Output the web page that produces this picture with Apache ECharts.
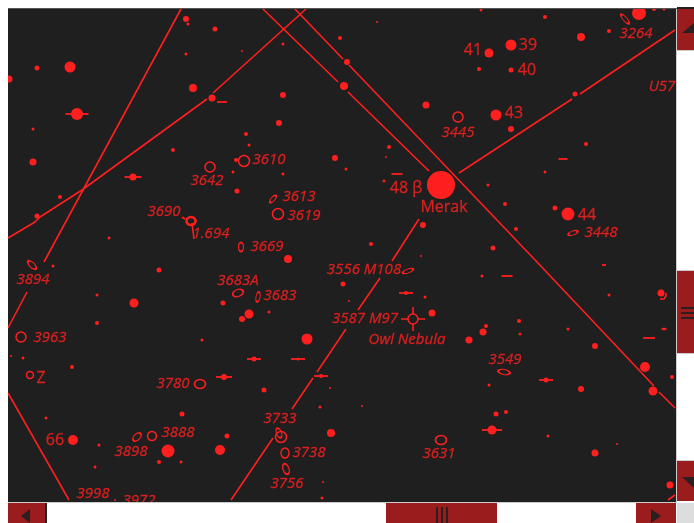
<!DOCTYPE html>
<html><head><meta charset="utf-8">
<style>html,body{margin:0;padding:0;background:#fff}#c{width:694px;height:523px}</style>
<script src="https://cdn.jsdelivr.net/npm/echarts@6/dist/echarts.min.js"></script>
</head><body><div id="c"></div>
<script>
// sky-map position in chart units, x, y, diameter
const stars=[[186,19,6],[188,24,3],[215,29,5],[340,38,4],[283,44,3],[242,51,2],[186,54,3],[347,62,6],[37,68,5],[70,67,11],[9,79,7],[344,86,8],[193,88,8],[212,98,7],[283,95,6],[279,123,6],[246,134,4],[249,145,3],[33,129,3],[77,114,12],[173,150,4],[33,162,7],[236,160,4],[335,158,6],[346,169,3],[283,174,3],[233,172,3],[133,177,7],[237,191,5],[60,197,4],[37,216,5],[109,238,3],[288,259,8],
[481,10,3],[377,22,2],[545,17,4],[639,13,14],[654,9,4],[664,9,3],[609,31,4],[581,37,8],[511,45,11],[489,53,9],[479,69,4],[511,70,5],[575,94,5],[426,105,7],[496,115,11],[511,129,6],[586,144,4],[389,147,4],[386,157,2],[384,181,3],[441,185,28],[545,172,3],[488,185,3],[505,204,4],[555,208,5],[568,214,13],[516,229,4],[423,225,6],[371,244,4],[421,256,2],[493,248,5],
[53,266,3],[159,270,5],[97,295,3],[134,303,9],[343,284,5],[223,303,5],[249,314,9],[242,319,6],[269,312,3],[349,301,2],[97,323,4],[307,339,11],[202,340,3],[11,356,2],[23,358,3],[72,367,4],[254,359,5],[298,359,3],[224,377,6],[321,376,4],[264,390,5],[330,388,2],[320,407,3],[46,418,3],[182,414,5],[73,440,10],[331,433,8],[227,436,5],[220,450,10],[168,451,13],[99,445,3],[159,462,4],[181,462,3],[95,467,3],[323,482,2],[322,498,3],[115,500,2],
[482,276,3],[425,297,3],[406,293,4],[609,295,3],[661,293,7],[432,313,7],[519,321,4],[568,329,3],[664,329,3],[483,332,7],[486,326,4],[520,334,3],[469,340,7],[595,346,6],[645,367,10],[672,377,4],[581,389,6],[653,391,9],[546,380,5],[489,385,3],[362,406,2],[496,414,5],[506,412,4],[492,430,9],[548,436,3],[617,444,2],[595,453,7],[670,485,7]];
// stars carrying a horizontal bar: x, y, length
const barStars=[[77,114,23],[222,102,10],[133,177,17],[563,159,9],[397,174,11],[254,359,14],[298,359,14],[224,377,16],[321,376,14],[507,276,11],[604,265,4],[406,293,14],[664,329,5],[649,338,12],[546,380,14],[492,430,20]];
// deep-sky outlines: x, y, width, height, rotation
const deepSky=[[625,19,12,4,-50],[458,117,10,10,0],[573,233,10,4,20],[244,161,11,11,0],[210,167,10,10,0],[273,199,9,4,50],[278,214,11,11,0],[191,221,10,9,0],[191,221,8,7,0],[241,247,5,9,0],[238,293,11,7,20],[258,297,4,10,-10],[32,265,11,5,-45],[21,337,10,10,0],[30,375,7,7,0],[200,384,11,9,0],[152,436,9,9,0],[137,437,10,6,45],[281,437,11,11,0],[279,433,5,10,20],[285,453,8,10,0],[286,469,6,11,20],[441,440,11,9,0],[504,372,12,5,-10],[408,271,11,4,20],[413,319,10,10,0]];
// constellation and guide lines, x, y pairs, null marks a gap
const lineA=[[181,9],[44,262],null,[27,292],[8,328]];
const lineB=[[8,238],[35,222],[40,217],[82,190],[207,99],null,[213,93],[306,9]];
const lineC=[[263,9],[338,82],null,[348,92],[429,171]];
const lineD=[[295,9],[343,59],null,[349,65],[537,262],[654,386],null,[659,392],[675,408]];
const lineE=[[459,173],[572,99],null,[580,94],[675,30]];
const lineF=[[419,219],[392,261],null,[380,278],[358,310],null,[346,329],[317,372],null,[313,378],[292,409],null,[273,438],[231,500]];
const lineG=[[8,393],[69,500]];
const lineH=[[675,495],[668,500]];
const leaders=[[182,217],[185,219],null,[192,223],[194,239]];
const m97Cross=[[401,319],[408,319],null,[418,319],[425,319],null,[413,307],[413,314],null,[413,324],[413,331]];
const crescent=[[660,299],[664,299],[666,296],[666,293]];
// italic catalogue labels: x, y, text
const catalogLabels=[[269,160,'3610'],[207,181,'3642'],[299,197,'3613'],[304,216,'3619'],[164,212,'3690'],[211,234,'1.694'],[267,247,'3669'],[636,34,'3264'],[662,87,'U57'],[458,133,'3445'],[601,233,'3448'],[33,280,'3894'],[238,281,'3683A'],[280,296,'3683'],[364,270,'3556 M108'],[365,319,'3587 M97'],[407,340,'Owl Nebula'],[50,338,'3963'],[173,384,'3780'],[178,433,'3888'],[131,452,'3898'],[280,419,'3733'],[309,453,'3738'],[287,484,'3756'],[93,494,'3998'],[139,501,'3972'],[505,360,'3549'],[439,454,'3631']];
// upright star labels: x, y, text
const starLabels=[[473,50,'41'],[528,45,'39'],[527,70,'40'],[514,113,'43'],[406,188,'48 β'],[444,207,'Merak'],[587,215,'44'],[41,378,'Z'],[55,440,'66']];

const RED='#ff1f1f', BTN='#9b1c1c', DARK='#2a2020';
const FONT='"Open Sans",sans-serif';
const lines=[lineA,lineB,lineC,lineD,lineE,lineF,lineG,lineH,leaders,m97Cross,crescent];
const toData=a=>a.map(p=>p?p:[null,null]);
const textSeries=(rows,style,size)=>({type:'scatter',symbolSize:0,silent:true,clip:true,
  data:rows.map(r=>({value:[r[0],r[1]],name:r[2]})),
  label:{show:true,position:'inside',formatter:p=>p.name,color:RED,fontFamily:FONT,fontStyle:style,fontSize:size,textBorderColor:RED,textBorderWidth:0.3}});
const series=[
  ...lines.map(l=>({type:'line',data:toData(l),showSymbol:false,silent:true,connectNulls:false,lineStyle:{color:RED,width:1.6}})),
  {type:'scatter',silent:true,data:stars.map(s=>({value:[s[0],s[1]],symbolSize:s[2]})),symbol:'circle',itemStyle:{color:RED,opacity:1}},
  {type:'scatter',silent:true,data:barStars.map(s=>({value:[s[0],s[1]],symbolSize:[s[2],1.8]})),symbol:'rect',itemStyle:{color:RED,opacity:1}},
  {type:'scatter',silent:true,data:deepSky.map(s=>({value:[s[0],s[1]],symbolSize:[s[2],s[3]],symbolRotate:s[4]})),symbol:'circle',
    itemStyle:{color:'rgba(0,0,0,0)',borderColor:RED,borderWidth:1.5,opacity:1}},
  textSeries(catalogLabels,'italic',15),
  textSeries(starLabels,'normal',16)
];
const rect=(x,y,w,h,fill,z)=>({type:'rect',shape:{x,y,width:w,height:h},style:{fill},z:z||100,silent:true});
const tri=(pts)=>({type:'polygon',shape:{points:pts},style:{fill:DARK},z:101,silent:true});
const graphic=[
  rect(0,0,694,8,'#fff'),rect(0,0,8,523,'#fff'),
  rect(8,8,669,1,'#555'),
  rect(677,0,17,523,'#fff'),rect(0,502,694,21,'#fff'),
  rect(676,9,1,493,'#ccc'),
  rect(677,7,17,2,'#222'),
  rect(677,9,17,41,BTN),rect(677,50,17,1,'#ccc'),
  rect(677,271,17,82,BTN),rect(677,270,17,1,'#ccc'),rect(677,353,17,1,'#ccc'),
  rect(677,461,17,40,BTN),rect(677,460,17,1,'#ccc'),
  rect(681,307,13,2,DARK),rect(681,312,13,2,DARK),rect(681,317,13,2,DARK),
  tri([[682,33],[694,33],[694,23]]),
  tri([[682,477],[694,477],[694,488]]),
  rect(8,502,669,1,'#ccc'),
  rect(8,503,37,20,BTN),rect(45,503,2,20,'#222'),
  rect(386,503,111,20,BTN),
  rect(436,507,2,16,DARK),rect(441,507,2,16,DARK),rect(446,507,2,16,DARK),
  rect(636,503,40,20,BTN),
  rect(677,503,17,20,'#ddd'),
  tri([[30,509],[30,523],[21,516]]),
  tri([[651,509],[651,523],[661,516]])
];
const chart=echarts.init(document.getElementById('c'),null,{renderer:'canvas'});
chart.setOption({
  animation:false,backgroundColor:'#fff',
  grid:{left:8,top:9,width:668,height:493,show:true,backgroundColor:'#1f1f1f',borderWidth:0},
  xAxis:{type:'value',min:8,max:676,show:false},
  yAxis:{type:'value',min:9,max:502,inverse:true,show:false},
  tooltip:{show:false},
  series,graphic
});
</script></body></html>
